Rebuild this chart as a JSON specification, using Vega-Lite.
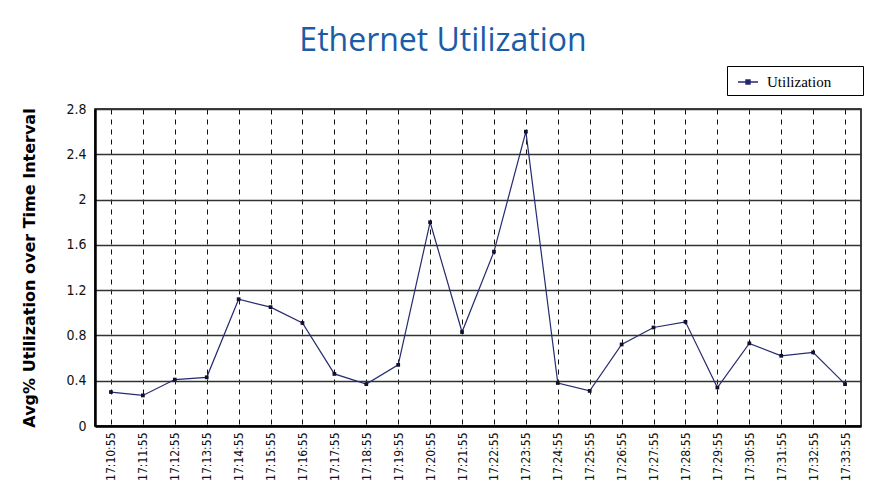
{
  "$schema": "https://vega.github.io/schema/vega-lite/v6.json",
  "width": 766,
  "height": 317,
  "autosize": {"type": "none"},
  "padding": {"left": 95, "top": 109, "right": 10, "bottom": 70},
  "background": "white",
  "title": {
    "text": "Ethernet Utilization",
    "font": "Open Sans",
    "fontSize": 32,
    "fontWeight": "normal",
    "color": "#1a5ca8",
    "anchor": "middle",
    "frame": "group",
    "dx": -35,
    "baseline": "alphabetic",
    "offset": -17
  },
  "config": {"view": {"stroke": "black", "strokeWidth": 1.5}},
  "data": {
    "values": [
      {"time": "17:10:55", "utilization": 0.30, "series": "Utilization"},
      {"time": "17:11:55", "utilization": 0.27, "series": "Utilization"},
      {"time": "17:12:55", "utilization": 0.41, "series": "Utilization"},
      {"time": "17:13:55", "utilization": 0.43, "series": "Utilization"},
      {"time": "17:14:55", "utilization": 1.12, "series": "Utilization"},
      {"time": "17:15:55", "utilization": 1.05, "series": "Utilization"},
      {"time": "17:16:55", "utilization": 0.91, "series": "Utilization"},
      {"time": "17:17:55", "utilization": 0.46, "series": "Utilization"},
      {"time": "17:18:55", "utilization": 0.37, "series": "Utilization"},
      {"time": "17:19:55", "utilization": 0.54, "series": "Utilization"},
      {"time": "17:20:55", "utilization": 1.80, "series": "Utilization"},
      {"time": "17:21:55", "utilization": 0.83, "series": "Utilization"},
      {"time": "17:22:55", "utilization": 1.54, "series": "Utilization"},
      {"time": "17:23:55", "utilization": 2.60, "series": "Utilization"},
      {"time": "17:24:55", "utilization": 0.38, "series": "Utilization"},
      {"time": "17:25:55", "utilization": 0.31, "series": "Utilization"},
      {"time": "17:26:55", "utilization": 0.72, "series": "Utilization"},
      {"time": "17:27:55", "utilization": 0.87, "series": "Utilization"},
      {"time": "17:28:55", "utilization": 0.92, "series": "Utilization"},
      {"time": "17:29:55", "utilization": 0.34, "series": "Utilization"},
      {"time": "17:30:55", "utilization": 0.73, "series": "Utilization"},
      {"time": "17:31:55", "utilization": 0.62, "series": "Utilization"},
      {"time": "17:32:55", "utilization": 0.65, "series": "Utilization"},
      {"time": "17:33:55", "utilization": 0.37, "series": "Utilization"}
    ]
  },
  "layer": [
    {
      "mark": {"type": "line", "strokeWidth": 1.2},
      "encoding": {
        "x": {
          "field": "time",
          "type": "ordinal",
          "sort": null,
          "scale": {"type": "point", "padding": 0.5},
          "axis": {
            "title": null,
            "labelAngle": -90,
            "labelFont": "DejaVu Sans Condensed, Liberation Sans Narrow, Liberation Sans",
            "labelFontSize": 12,
            "labelColor": "#111111",
            "ticks": false,
            "labelPadding": 6,
            "domain": true,
            "domainColor": "black",
            "domainWidth": 2.5,
            "grid": true,
            "gridColor": "#111111",
            "gridDash": [5, 5],
            "gridWidth": 1,
            "gridOpacity": 1
          }
        },
        "y": {
          "field": "utilization",
          "type": "quantitative",
          "scale": {"domain": [0, 2.8], "nice": false, "zero": true},
          "axis": {
            "title": "Avg% Utilization over Time Interval",
            "titleFont": "DejaVu Sans",
            "titleFontSize": 16,
            "titleFontWeight": "bold",
            "titleColor": "black",
            "titlePadding": 28,
            "values": [0, 0.4, 0.8, 1.2, 1.6, 2, 2.4, 2.8],
            "format": "~g",
            "labelFont": "DejaVu Sans Condensed, Liberation Sans Narrow, Liberation Sans",
            "labelFontSize": 14,
            "labelColor": "#111111",
            "ticks": false,
            "labelPadding": 9,
            "domainColor": "black",
            "domainWidth": 2.5,
            "grid": true,
            "gridColor": "#333333",
            "gridWidth": 1.5,
            "gridOpacity": 1
          }
        },
        "color": {
          "field": "series",
          "type": "nominal",
          "scale": {"range": ["#262a6e"]},
          "legend": {
            "title": null,
            "orient": "none",
            "legendX": 632,
            "legendY": -43,
            "strokeColor": "black",
            "fillColor": "white",
            "padding": 5,
            "symbolOffset": 5,
            "symbolType": "M-1,0H1M-0.2,-0.2H0.2V0.2H-0.2Z",
            "symbolSize": 400,
            "labelFont": "Liberation Serif",
            "labelFontSize": 15,
            "labelColor": "black",
            "labelOffset": 8,
            "labelExpr": "datum.label + '\u00a0\u00a0\u00a0\u00a0\u2800'",
            "encode": {
              "symbols": {
                "update": {
                  "stroke": {"value": "#1c1c6e"},
                  "fill": {"value": "#1c1c6e"},
                  "strokeWidth": {"value": 1.5}
                }
              }
            }
          }
        }
      }
    },
    {
      "mark": {"type": "point", "shape": "square", "filled": true, "size": 14, "color": "#10102a", "opacity": 1},
      "encoding": {
        "x": {"field": "time", "type": "ordinal", "sort": null},
        "y": {"field": "utilization", "type": "quantitative"}
      }
    }
  ]
}
